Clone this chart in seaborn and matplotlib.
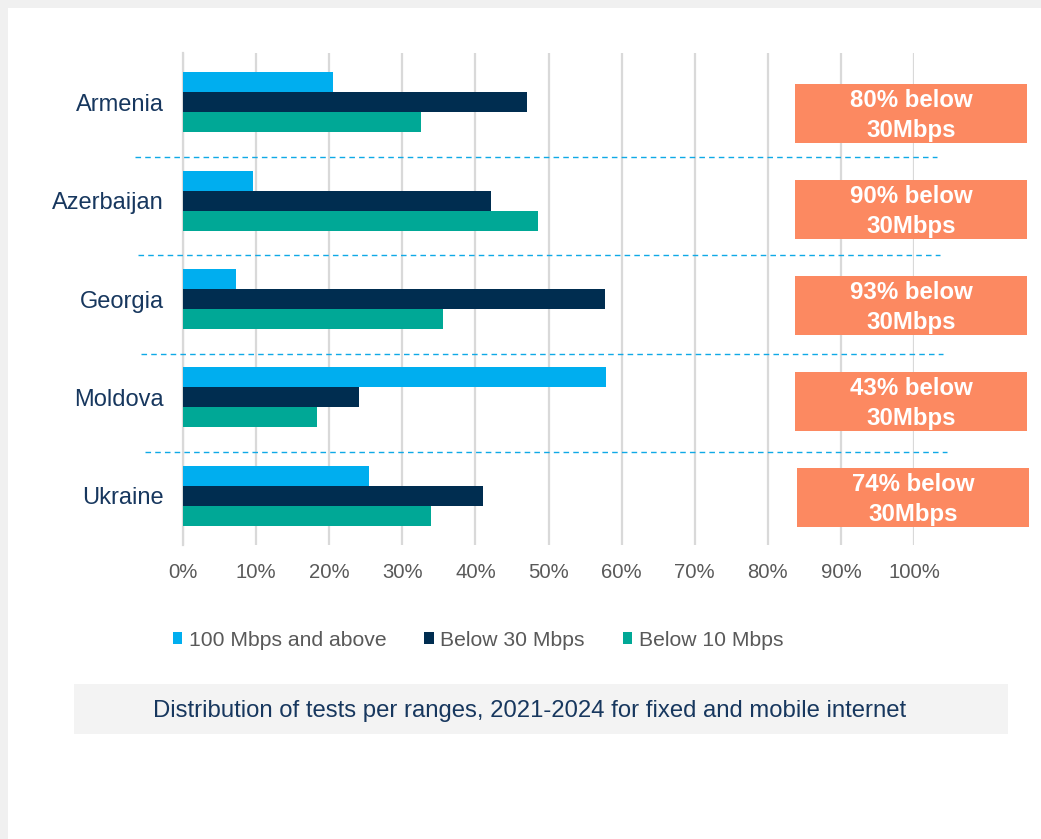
import matplotlib
matplotlib.use("Agg")
import matplotlib.pyplot as plt
import seaborn as sns
import pandas as pd
from matplotlib.patches import Rectangle

countries = ["Armenia", "Azerbaijan", "Georgia", "Moldova", "Ukraine"]
series_names = ["100 Mbps and above", "Below 30 Mbps", "Below 10 Mbps"]
above_100 = [20.5, 9.6, 7.2, 57.9, 25.5]
below_30 = [47.1, 42.1, 57.7, 24.1, 41.0]
below_10 = [32.6, 48.6, 35.6, 18.3, 33.9]
share_below_30 = ["80%", "90%", "93%", "43%", "74%"]
tick_values = [0, 10, 20, 30, 40, 50, 60, 70, 80, 90, 100]
tick_labels = ["0%", "10%", "20%", "30%", "40%", "50%", "60%", "70%", "80%", "90%", "100%"]
caption = "Distribution of tests per ranges, 2021-2024 for fixed and mobile internet"

colors = ["#00AEEF", "#002D50", "#00A896"]
navy = "#17375E"
grey_text = "#595959"

rows = []
for name, vals in zip(series_names, [above_100, below_30, below_10]):
    for c, v in zip(countries, vals):
        rows.append({"country": c, "series": name, "value": v})
df = pd.DataFrame(rows)

sns.set_theme(style="white")
plt.rcParams["font.family"] = ["Liberation Sans", "DejaVu Sans"]

fig = plt.figure(figsize=(10.41, 8.39), dpi=100)
fig.patch.set_facecolor("white")
# outer grey frame (left and top)
fig.patches.append(Rectangle((0, 0), 8 / 1041, 1, transform=fig.transFigure,
                             facecolor="#F0F0F0", edgecolor="none", zorder=0))
fig.patches.append(Rectangle((0, 1 - 8 / 839), 1, 8 / 839, transform=fig.transFigure,
                             facecolor="#F0F0F0", edgecolor="none", zorder=0))

ax = fig.add_axes([183 / 1041, 1 - 545 / 839, (914 - 183) / 1041, (545 - 53) / 839])
sns.barplot(data=df, y="country", x="value", hue="series", order=countries,
            hue_order=series_names, palette=colors, orient="h", width=0.61,
            linewidth=0, saturation=1, ax=ax, zorder=3)

ax.set_xlim(0, 100)
ax.set_ylim(len(countries) - 0.5, -0.5)
ax.set_xticks(tick_values)
ax.set_xticklabels(tick_labels, fontsize=14.6, color=grey_text)
ax.tick_params(axis="x", length=0, pad=13)
ax.tick_params(axis="y", length=0, pad=14, labelsize=17, labelcolor=navy)
ax.set_xlabel("")
ax.set_ylabel("")
ax.grid(axis="x", color="#D9D9D9", linewidth=1.6, zorder=0)
ax.grid(axis="y", visible=False)
for s in ["top", "right", "bottom"]:
    ax.spines[s].set_visible(False)
ax.spines["left"].set_color("#D9D9D9")
ax.spines["left"].set_linewidth(1.6)
ax.set_axisbelow(True)

# dashed separators between countries
for i in range(len(countries) - 1):
    y = i + 0.556
    x0 = -6.6 + i * 0.45
    x1 = 103.1 + i * 0.45
    ax.plot([x0, x1], [y, y], linestyle=(0, (4, 3)), color="#0FA9E6",
            linewidth=1.0, clip_on=False, zorder=4)

# orange callout boxes
for i, pct in enumerate(share_below_30):
    x0 = 83.7 + (0.3 if i == 4 else 0)
    yb = i - 0.183 - 0.0254 * i
    rect = Rectangle((x0, yb), 31.8, 0.6, facecolor="#FC8961",
                     edgecolor="none", clip_on=False, zorder=5)
    ax.add_patch(rect)
    ax.text(x0 + 15.9, yb + 0.32, f"{pct} below\n30Mbps", ha="center", va="center",
            color="white", fontsize=17.3, fontweight="bold", linespacing=1.38,
            zorder=6, clip_on=False)

sns.move_legend(ax, "center", bbox_to_anchor=((478 - 183) / 731, (545 - 640) / 492),
                ncol=3, frameon=False, title=None, fontsize=15.2,
                handlelength=0.45, handleheight=0.45, handletextpad=0.3,
                columnspacing=1.8, labelcolor=grey_text)

# caption box
fig.patches.append(Rectangle((74 / 1041, 1 - 734 / 839), 934 / 1041, 50 / 839,
                             transform=fig.transFigure, facecolor="#F3F3F3",
                             edgecolor="none", zorder=0))
fig.text(530 / 1041, 1 - 711 / 839, caption, ha="center", va="center",
         fontsize=17.2, color=navy)

fig.savefig("out.png", dpi=100, facecolor=fig.get_facecolor())
